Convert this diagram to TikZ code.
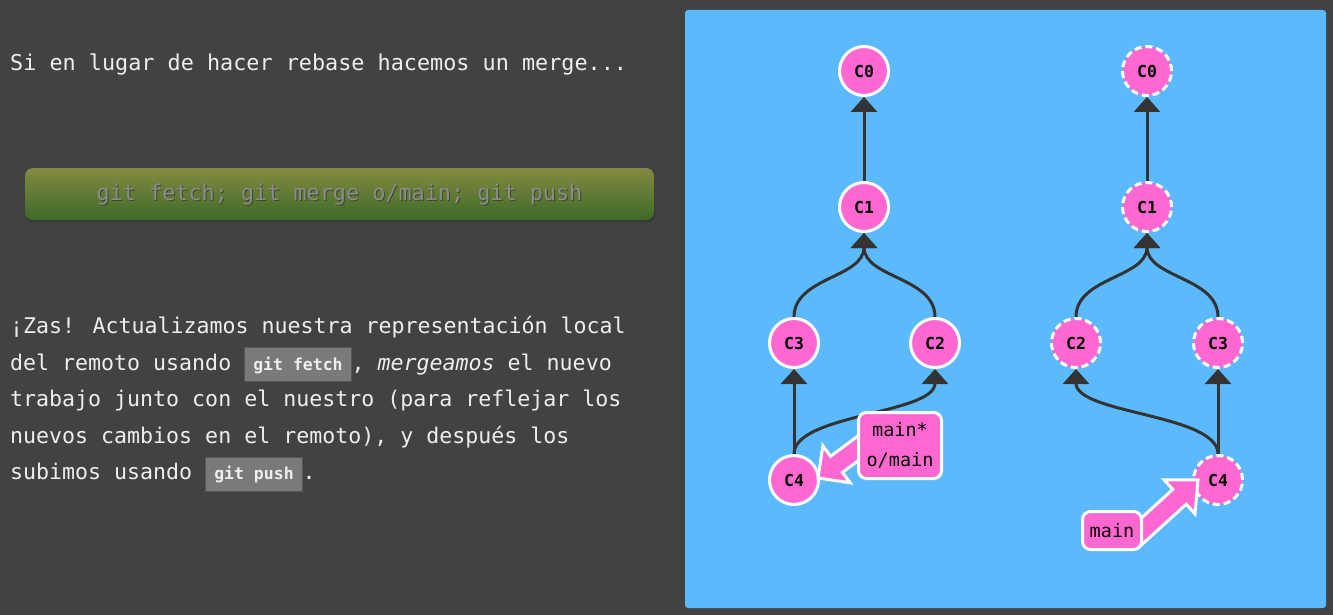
\documentclass[tikz,border=0pt]{standalone}
\usepackage{fontspec}
\setmainfont{DejaVu Sans Mono}
\setmonofont{DejaVu Sans Mono}
\usetikzlibrary{arrows.meta,calc}
\definecolor{bg}{HTML}{424242}
\definecolor{panel}{HTML}{5CBAFC}
\definecolor{commit}{HTML}{FF68D0}
\definecolor{edge}{HTML}{333333}
\definecolor{txt}{HTML}{EEEEEE}
\definecolor{cfill}{HTML}{7A7A7A}
\definecolor{cbord}{HTML}{555555}
\definecolor{btop}{HTML}{848A41}
\definecolor{bbot}{HTML}{3D6A29}
\definecolor{btxt}{HTML}{8C8C8C}
\definecolor{bshad}{HTML}{3A4A2A}
\newcommand\gitcode[1]{{\setlength{\fboxsep}{8pt}\setlength{\fboxrule}{1pt}\fcolorbox{cbord}{cfill}{\rule[-3pt]{0pt}{17pt}\fontsize{16.5}{16}\selectfont\bfseries #1}}}
\begin{document}
\begin{tikzpicture}[x=1pt,y=-1pt,
  commitnode/.style={circle, fill=commit, draw=white, line width=3pt, minimum size=49pt, inner sep=0pt, font=\fontsize{16.5}{16}\selectfont\bfseries, text=black},
  ghost/.style={commitnode, dash pattern=on 7pt off 4pt},
  edgeline/.style={draw=edge, line width=3pt, -{Triangle[width=26pt,length=15pt]}},
  branchbox/.style={rounded corners=8pt, fill=commit, draw=white, line width=3pt, font=\fontsize{18.5}{30}\selectfont, text=black, align=center, inner sep=0pt},
  blockarrow/.style={fill=commit, draw=white, line width=3pt, line join=miter},
]
\fill[bg] (0,0) rectangle (1333,615);
\useasboundingbox (0,0) rectangle (1333,615);

% left text
\node[anchor=west, inner sep=0pt, text=txt, font=\fontsize{21.8}{26}\selectfont] (title) at (10,65) {Si en lugar de hacer rebase hacemos un merge...};

\fill[black!80, opacity=0.5, rounded corners=8pt] (26,171) rectangle (655,223);
\node[rounded corners=8pt, minimum width=629pt, minimum height=52pt, inner sep=0pt, top color=btop, bottom color=bbot] (btn) at (339.5,194) {};
\node[text=bshad, font=\fontsize{21.8}{26}\selectfont, inner sep=0pt] at (340.5,196) {git fetch; git merge o/main; git push};
\node[text=btxt, font=\fontsize{21.8}{26}\selectfont, inner sep=0pt] (cmd) at ($(btn.center)+(0,1)$) {git fetch; git merge o/main; git push};

\node[anchor=north west, inner sep=0pt, text=txt, align=left, font=\fontsize{21.6}{36.6}\selectfont] (para) at (10,316) {%
¡Zas! Actualizamos nuestra representación local\\
del remoto usando \gitcode{git fetch}, \textit{mergeamos} el nuevo\\
trabajo junto con el nuestro (para reflejar los\\
nuevos cambios en el remoto), y después los\\
subimos usando \gitcode{git push}.};

% panel
\fill[panel, rounded corners=3pt] (685,10) rectangle (1326,608);

% left tree
\node[commitnode] (l0) at (864,71) {C0};
\node[commitnode] (l1) at (864,207) {C1};
\node[commitnode] (l3) at (794,343) {C3};
\node[commitnode] (l2) at (935,343) {C2};
\node[commitnode] (l4) at (794,480) {C4};

\draw[edgeline] (l1.north) -- (l0.south);
\draw[edgeline] (l3.north) .. controls +(0,-40) and +(0,45) .. (l1.south);
\draw[edgeline] (l2.north) .. controls +(0,-40) and +(0,45) .. (l1.south);
\draw[edgeline] (l4.north) -- (l3.south);
\draw[edgeline] (l4.north) .. controls +(0,-40) and +(0,45) .. (l2.south);

% right tree
\node[ghost] (r0) at (1147,71) {C0};
\node[ghost] (r1) at (1147,207) {C1};
\node[ghost] (r2) at (1076,343) {C2};
\node[ghost] (r3) at (1218,343) {C3};
\node[ghost] (r4) at (1218,480) {C4};

\draw[edgeline] (r1.north) -- (r0.south);
\draw[edgeline] (r2.north) .. controls +(0,-40) and +(0,45) .. (r1.south);
\draw[edgeline] (r3.north) .. controls +(0,-40) and +(0,45) .. (r1.south);
\draw[edgeline] (r4.north) -- (r3.south);
\draw[edgeline] (r4.north) .. controls +(0,-40) and +(0,45) .. (r2.south);

% branch arrows
\coordinate (tipL) at ($(l4.center)+(24,-2)$);
\coordinate (tailL) at (868,441);
\coordinate (hL) at ($(tipL)!23pt!(tailL)$);
\draw[blockarrow] (tipL) -- ($(hL)!23pt!90:(tailL)$) -- ($(hL)!10pt!90:(tailL)$) -- ($(tailL)!10pt!-90:(hL)$) -- ($(tailL)!10pt!90:(hL)$) -- ($(hL)!10pt!-90:(tailL)$) -- ($(hL)!23pt!-90:(tailL)$) -- cycle;

\coordinate (tipR) at ($(r4.center)+(-20,0)$);
\coordinate (tailR) at (1132,540);
\coordinate (hR) at ($(tipR)!25pt!(tailR)$);
\draw[blockarrow] (tipR) -- ($(hR)!23pt!90:(tailR)$) -- ($(hR)!10pt!90:(tailR)$) -- ($(tailR)!10pt!-90:(hR)$) -- ($(tailR)!10pt!90:(hR)$) -- ($(hR)!10pt!-90:(tailR)$) -- ($(hR)!23pt!-90:(tailR)$) -- cycle;

\node[branchbox, minimum width=83pt, minimum height=66pt] (mL) at (900,445.5) {main*\\o/main};
\node[branchbox, minimum width=59pt, minimum height=38pt] (mR) at (1112,530.5) {main};
\end{tikzpicture}
\end{document}
